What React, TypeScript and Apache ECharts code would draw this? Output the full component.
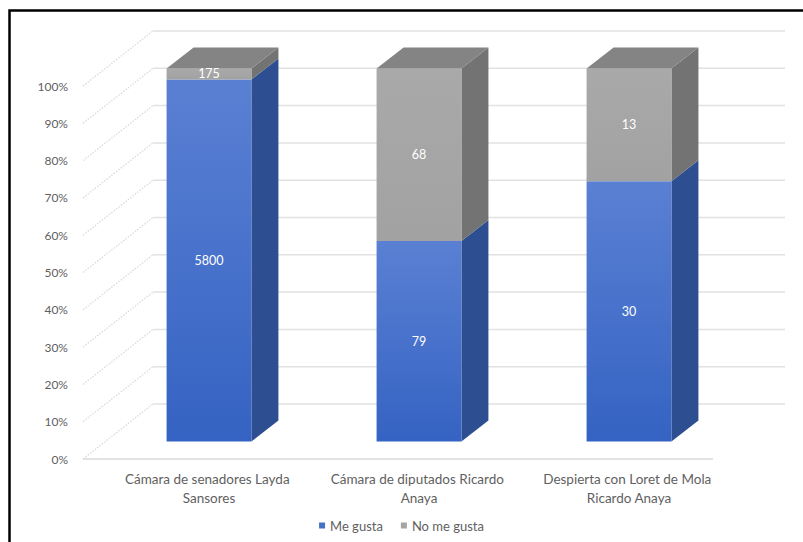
import React, { useEffect, useRef } from "react";
import * as echarts from "echarts";

const categories = [
  "Cámara de senadores Layda Sansores",
  "Cámara de diputados Ricardo Anaya",
  "Despierta con Loret de Mola Ricardo Anaya",
];
const meGusta = [5800, 79, 30];
const noMeGusta = [175, 68, 13];
const yTicks = [0, 10, 20, 30, 40, 50, 60, 70, 80, 90, 100];
const seriesNames = ["Me gusta", "No me gusta"];

const FONT = "Lato, 'Open Sans', sans-serif";
const TEXT = "#5F5F5F";
const FRONT_DY = -17.5; // floor front -> bar front face
const BOX_DX = 27;
const BOX_DY = -21;
const WALL_DX = 70;
const WALL_DY = -55;

const palette = {
  blue: {
    front: () =>
      new echarts.graphic.LinearGradient(0, 0, 0, 1, [
        { offset: 0, color: "#5A80D3" },
        { offset: 1, color: "#3563C3" },
      ]),
    side: "#2D4F92",
    top: "#3E5FA5",
    legend: "#4472C4",
  },
  gray: {
    front: () =>
      new echarts.graphic.LinearGradient(0, 0, 0, 1, [
        { offset: 0, color: "#A9A9A9" },
        { offset: 1, color: "#A2A2A2" },
      ]),
    side: "#737373",
    top: "#848484",
    legend: "#A5A5A5",
  },
};

export default function App() {
  const ref = useRef<HTMLDivElement>(null);

  useEffect(() => {
    if (!ref.current) return;
    const chart = echarts.init(ref.current, undefined, { renderer: "svg" });

    const totals = meGusta.map((v, i) => v + noMeGusta[i]);
    const meData = meGusta.map((v, i) => [i, 0, (v / totals[i]) * 100, v]);
    const noData = noMeGusta.map((v, i) => [
      i,
      (meGusta[i] / totals[i]) * 100,
      100,
      v,
    ]);

    const makeBarRender = (pal: typeof palette.blue) => (params: any, api: any) => {
      const c = api.value(0);
      const s = api.value(1);
      const e = api.value(2);
      const raw = api.value(3);
      const p0 = api.coord([c, s]);
      const p1 = api.coord([c, e]);
      const bw = api.size([1, 0])[0] * 0.404;
      const xl = p0[0] - bw / 2;
      const xr = p0[0] + bw / 2;
      const yb = p0[1] + FRONT_DY;
      const yt = p1[1] + FRONT_DY;
      const children: any[] = [
        {
          type: "polygon",
          shape: {
            points: [
              [xr, yt],
              [xr + BOX_DX, yt + BOX_DY],
              [xr + BOX_DX, yb + BOX_DY],
              [xr, yb],
            ],
          },
          style: { fill: pal.side },
        },
        {
          type: "rect",
          shape: { x: xl, y: yt, width: bw, height: yb - yt },
          style: { fill: pal.front() },
        },
      ];
      if (e >= 99.999) {
        children.push({
          type: "polygon",
          shape: {
            points: [
              [xl, yt],
              [xl + BOX_DX, yt + BOX_DY],
              [xr + BOX_DX, yt + BOX_DY],
              [xr, yt],
            ],
          },
          style: { fill: pal.top },
        });
      }
      children.push({
        type: "text",
        x: p0[0],
        y: (yt + yb) / 2,
        style: {
          text: String(raw),
          fill: "#FFFFFF",
          font: `12.5px ${FONT}`,
          align: "center",
          verticalAlign: "middle",
        },
      });
      return { type: "group", children };
    };

    const option: any = {
      animation: false,
      backgroundColor: "#FFFFFF",
      grid: { left: 104, right: 69, top: 86, bottom: 83 },
      graphic: [
        {
          type: "rect",
          x: 9.5,
          y: 10.5,
          shape: { width: 900, height: 700 },
          style: { fill: "none", stroke: "#000000", lineWidth: 2.5 },
          silent: true,
          z: 100,
        },
      ],
      legend: {
        data: seriesNames,
        bottom: 5,
        left: "center",
        icon: "rect",
        itemWidth: 6,
        itemHeight: 6,
        itemGap: 18,
        textStyle: { color: TEXT, fontSize: 13, fontFamily: FONT },
      },
      xAxis: {
        type: "category",
        data: categories,
        axisLine: { show: false },
        axisTick: { show: false },
        splitLine: { show: false },
        axisLabel: {
          color: TEXT,
          fontSize: 13.5,
          fontFamily: FONT,
          margin: 10,
          lineHeight: 19,
          width: 198,
          overflow: "break",
          interval: 0,
        },
      },
      yAxis: {
        type: "value",
        min: 0,
        max: 100,
        interval: 10,
        axisLine: { show: false },
        axisTick: { show: false },
        splitLine: { show: false },
        axisLabel: {
          formatter: "{value}%",
          color: TEXT,
          fontSize: 12,
          fontFamily: FONT,
          margin: 36,
        },
      },
      series: [
        {
          type: "custom",
          name: "walls",
          silent: true,
          clip: false,
          z: 1,
          data: yTicks.map((t) => [0, t]),
          encode: { x: 0, y: 1 },
          renderItem: (params: any, api: any) => {
            const t = api.value(1);
            const y = api.coord([0, t])[1];
            const cs = params.coordSys;
            const fl = cs.x - 21;
            const fr = cs.x + cs.width - 21;
            const children: any[] = [
              {
                type: "line",
                shape: { x1: fl, y1: y, x2: fl + WALL_DX, y2: y + WALL_DY },
                style: { stroke: "#DADADA", lineWidth: 1.3, lineDash: [1.5, 1.5] },
              },
              {
                type: "line",
                shape: {
                  x1: fl + WALL_DX,
                  y1: y + WALL_DY,
                  x2: fr + WALL_DX + 2,
                  y2: y + WALL_DY,
                },
                style: { stroke: "#E2E2E2", lineWidth: 1.5 },
              },
            ];
            if (t === 0) {
              children.push({
                type: "line",
                shape: { x1: fl, y1: y, x2: fr, y2: y },
                style: { stroke: "#DADADA", lineWidth: 1.5 },
              });
            }
            return { type: "group", children };
          },
        },
        {
          type: "custom",
          name: seriesNames[0],
          clip: false,
          z: 2,
          itemStyle: { color: palette.blue.legend },
          data: meData,
          encode: { x: 0, y: [1, 2] },
          renderItem: makeBarRender(palette.blue),
        },
        {
          type: "custom",
          name: seriesNames[1],
          clip: false,
          z: 2,
          itemStyle: { color: palette.gray.legend },
          data: noData,
          encode: { x: 0, y: [1, 2] },
          renderItem: makeBarRender(palette.gray),
        },
      ],
    };

    chart.setOption(option);
    return () => chart.dispose();
  }, []);

  return (
    <div
      ref={ref}
      style={{ position: "fixed", left: 0, top: 0, width: 803, height: 542 }}
    />
  );
}
